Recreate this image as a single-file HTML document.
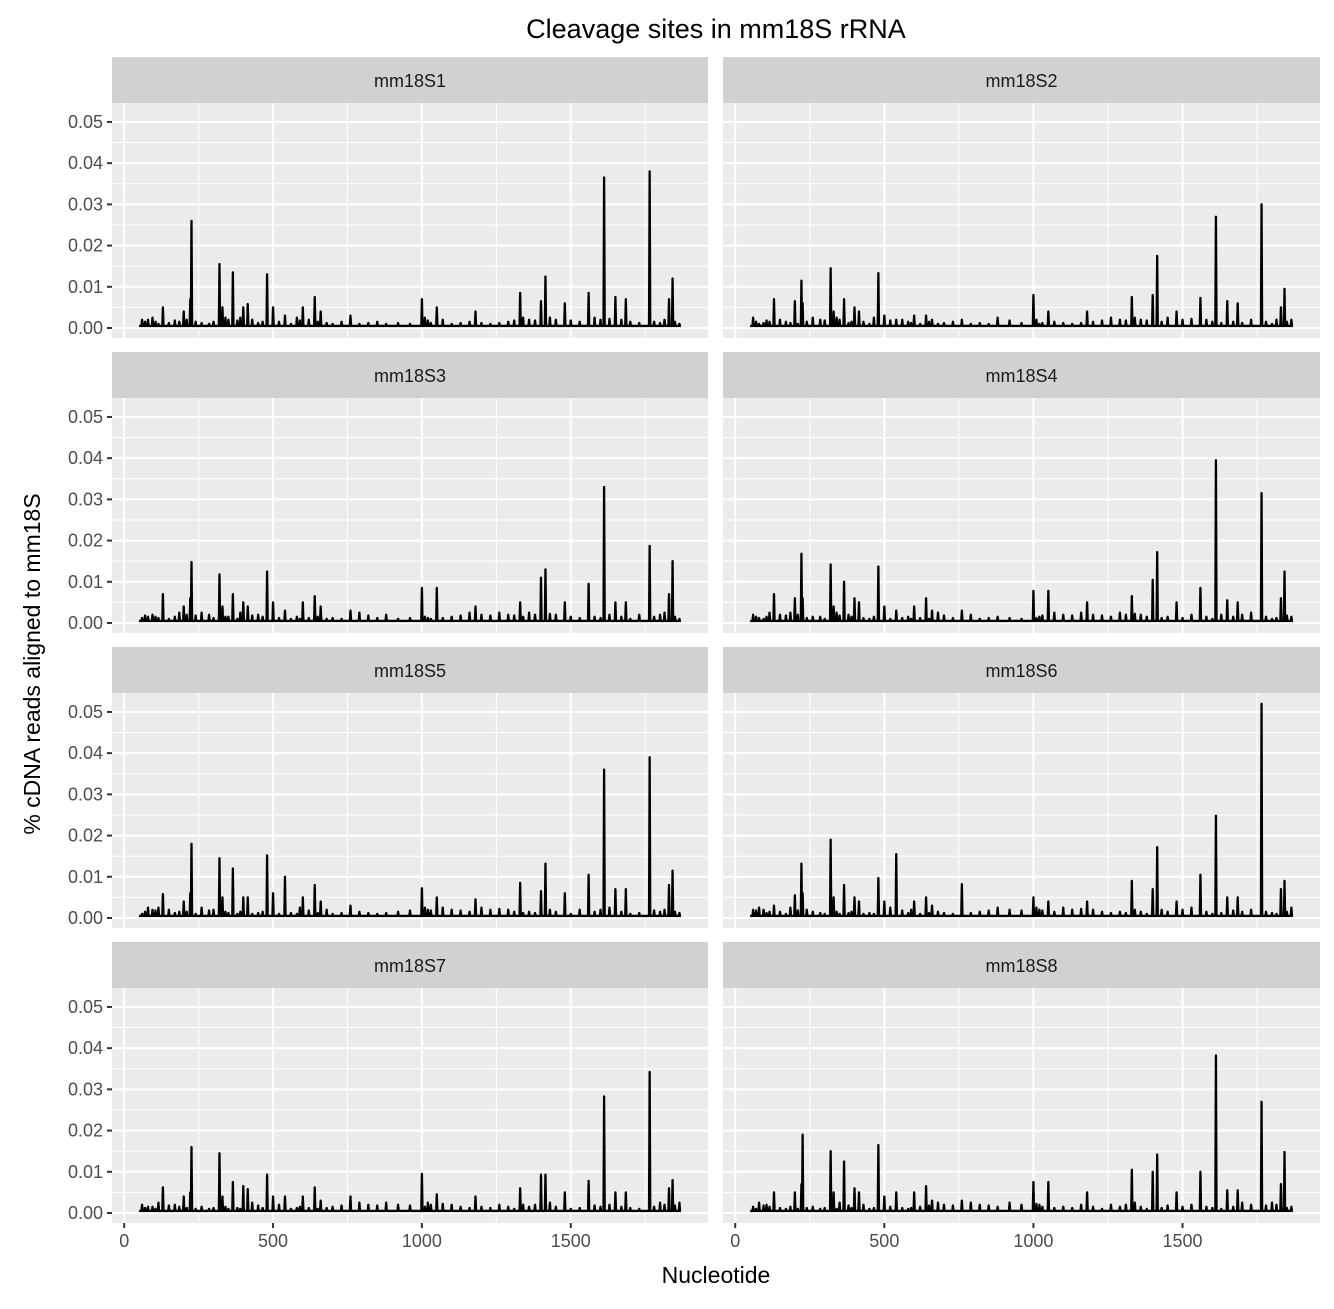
<!DOCTYPE html>
<html><head><meta charset="utf-8">
<style>
body{margin:0;background:#fff;}
svg text{font-family:"Liberation Sans",Arial,sans-serif;}
</style></head>
<body>
<svg id="chart" width="1334" height="1304" xmlns="http://www.w3.org/2000/svg">
<rect width="1334" height="1304" fill="#fff"/>
<text x="716" y="38" font-size="27" text-anchor="middle" fill="#000">Cleavage sites in mm18S rRNA</text>
<text x="716" y="1283" font-size="23" text-anchor="middle" fill="#000">Nucleotide</text>
<text transform="translate(40,664) rotate(-90)" font-size="23" text-anchor="middle" fill="#000">% cDNA reads aligned to mm18S</text>
<g id="panels"></g>
</svg>
<script>
const sampleNames = ["mm18S1","mm18S2","mm18S3","mm18S4","mm18S5","mm18S6","mm18S7","mm18S8"];
const sites = [130,200,222,226,320,330,365,400,415,480,500,540,600,640,660,760,1000,1050,1180,1330,1400,1415,1480,1560,1612,1650,1685,1765,1830,1842];
const s1 = [.005,.004,.007,.026,.0155,.005,.0135,.005,.0058,.013,.005,.003,.005,.0075,.004,.003,.007,.005,.004,.0085,.0065,.0125,.006,.0085,.0365,.0075,.007,.038,.007,.012];
const s2 = [.007,.0065,.0115,.006,.0145,.004,.007,.005,.004,.0133,.003,.002,.003,.003,.002,.002,.008,.004,.004,.0075,.008,.0175,.004,.0073,.027,.0065,.006,.030,.005,.0095];
const s3 = [.007,.004,.006,.0148,.0118,.004,.007,.005,.004,.0125,.005,.003,.005,.0065,.004,.003,.0085,.0085,.004,.005,.011,.013,.005,.0095,.033,.005,.005,.0187,.007,.015];
const s4 = [.007,.006,.0168,.006,.0142,.004,.0100,.006,.005,.0137,.004,.003,.004,.006,.003,.003,.0078,.0078,.005,.0065,.0105,.0172,.005,.0085,.0395,.0055,.005,.0315,.006,.0125];
const s5 = [.0058,.004,.006,.018,.0145,.005,.012,.005,.005,.0152,.006,.010,.005,.008,.004,.003,.0072,.005,.0045,.0085,.0065,.0132,.006,.0105,.036,.007,.007,.039,.008,.0115];
const s6 = [.003,.0055,.0132,.006,.019,.005,.008,.005,.004,.0097,.004,.0155,.004,.005,.003,.0082,.005,.004,.004,.009,.007,.0172,.004,.0105,.0248,.005,.005,.052,.007,.009];
const s7 = [.0062,.004,.005,.016,.0145,.004,.0075,.0065,.0058,.0093,.004,.004,.004,.0062,.003,.004,.0095,.0045,.004,.006,.0093,.0093,.005,.0078,.0283,.005,.005,.0342,.006,.008];
const s8 = [.005,.005,.007,.019,.015,.005,.0125,.006,.005,.0165,.004,.005,.005,.0065,.003,.003,.0075,.0075,.005,.0105,.010,.0142,.005,.010,.0382,.0055,.0055,.027,.007,.0148];
const seriesValues = [s1,s2,s3,s4,s5,s6,s7,s8];
const minorSites = [60,70,80,95,105,115,150,170,185,210,240,260,285,300,340,350,380,390,430,450,465,520,560,580,590,620,650,680,700,730,790,820,850,880,920,960,1010,1020,1030,1070,1100,1130,1160,1200,1230,1260,1290,1310,1340,1360,1380,1430,1450,1500,1530,1580,1600,1630,1670,1700,1730,1780,1800,1815,1850,1865];
const minorValues = [.002,.0015,.002,.0025,.0015,.001,.0012,.0018,.0015,.002,.0015,.0012,.001,.0015,.0025,.002,.0018,.0025,.002,.0012,.0015,.0015,.001,.0025,.0018,.002,.0015,.0012,.001,.0015,.001,.0012,.0015,.001,.0012,.001,.0025,.0018,.0012,.002,.001,.0012,.0015,.0012,.001,.0012,.0015,.0018,.0025,.002,.0018,.0025,.002,.0018,.0015,.0025,.002,.0022,.002,.0015,.0012,.0015,.0012,.002,.0015,.001];
const xTicks = [0,500,1000,1500];
const yTicks = [0,0.01,0.02,0.03,0.04,0.05];
const yTickLabels = ["0.00","0.01","0.02","0.03","0.04","0.05"];
const xStart = 50, xEnd = 1870, baseline = 0.0005;

const NS="http://www.w3.org/2000/svg";
const root=document.getElementById('panels');
function mk(tag,attrs,parent){const e=document.createElementNS(NS,tag);for(const k in attrs)e.setAttribute(k,attrs[k]);(parent||root).appendChild(e);return e;}
const colL=[112,708], colR=[723,1320];
const rowTops=[57,352,647,942];
const stripH=46, plotH=235;
const xMin=-41, xMax=1961, yMin=-0.00243, yMax=0.0546;

for(let i=0;i<8;i++){
  const col=i%2, row=Math.floor(i/2);
  const [x0,x1]= col===0?colL:colR;
  const top=rowTops[row], pTop=top+stripH, pBot=pTop+plotH;
  const sx=v=>x0+(v-xMin)/(xMax-xMin)*(x1-x0);
  const sy=v=>pBot-(v-yMin)/(yMax-yMin)*plotH;
  const g=mk('g',{});
  
  
  const strip=mk('rect',{x:x0,y:top,width:x1-x0,height:stripH,fill:'#d1d1d1'},g);
  
  
  const st=mk('text',{x:(x0+x1)/2,y:top+30,'font-size':18,'text-anchor':'middle',fill:'#1a1a1a'},g);
  st.textContent=sampleNames[i];
  
  
  const bg=mk('rect',{x:x0,y:pTop,width:x1-x0,height:plotH,fill:'#ebebeb'},g);
  
  
  for(let k=0;k<xTicks.length;k++){const v=xTicks[k]+250; if(v<xMax) mk('line',{x1:sx(v),x2:sx(v),y1:pTop,y2:pBot,stroke:'#fff','stroke-width':1},g);}
  for(let k=0;k<yTicks.length;k++){const v=yTicks[k]+0.005; if(v<yMax) mk('line',{x1:x0,x2:x1,y1:sy(v),y2:sy(v),stroke:'#fff','stroke-width':1},g);}
  xTicks.forEach(v=>mk('line',{x1:sx(v),x2:sx(v),y1:pTop,y2:pBot,stroke:'#fff','stroke-width':2},g));
  yTicks.forEach(v=>mk('line',{x1:x0,x2:x1,y1:sy(v),y2:sy(v),stroke:'#fff','stroke-width':2},g));
  const vals=seriesValues[i];
  const pts=[];
  sites.forEach((s,k)=>pts.push([s,vals[k]]));
  minorSites.forEach((s,k)=>pts.push([s,minorValues[(k+i*3)%minorValues.length]]));
  pts.sort((a,b)=>a[0]-b[0]);
  let d='M'+sx(xStart)+','+sy(baseline);
  pts.forEach(([s,v])=>{d+=' L'+sx(s-2)+','+sy(baseline)+' L'+sx(s)+','+sy(v)+' L'+sx(s+2)+','+sy(baseline);});
  d+=' L'+sx(xEnd)+','+sy(baseline);
  const p=mk('path',{d:d,fill:'none',stroke:'#000','stroke-width':2.3,'stroke-linejoin':'round'},g);
  
  
  if(col===0){
    yTicks.forEach((v,k)=>{
      mk('line',{x1:x0-5,x2:x0,y1:sy(v),y2:sy(v),stroke:'#333','stroke-width':2},g);
      const t=mk('text',{x:x0-9,y:sy(v)+6,'font-size':18,'text-anchor':'end',fill:'#4d4d4d'},g);
      t.textContent=yTickLabels[k];
      
      
    });
  }
  if(row===3){
    xTicks.forEach(v=>{
      mk('line',{x1:sx(v),x2:sx(v),y1:pBot,y2:pBot+5,stroke:'#333','stroke-width':2},g);
      const t=mk('text',{x:sx(v),y:pBot+24,'font-size':18,'text-anchor':'middle',fill:'#4d4d4d'},g);
      t.textContent=String(v);
      
      
    });
  }
}
</script>
</body></html>
